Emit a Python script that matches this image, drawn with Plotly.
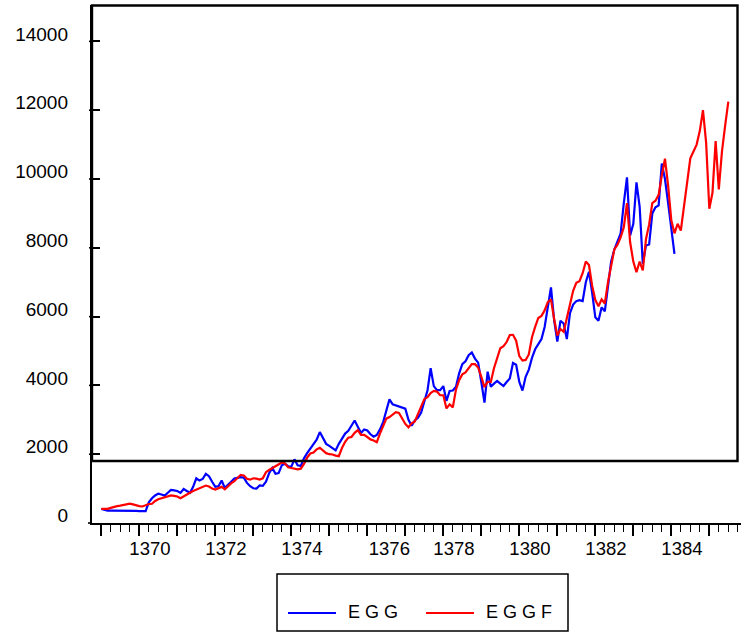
import plotly.graph_objects as go

# ---- data (monthly, starting 1369 month 1) ----
START_YEAR = 1369
egg = [408, 380, 360, 360, 360, 365, 370, 365, 362, 360, 355, 350,
       345, 335, 345, 600, 720, 800, 854, 830, 796, 880, 960, 950,
       930, 875, 990, 930, 880, 1050, 1300, 1234, 1280, 1429, 1360, 1200,
       1050, 1070, 1234, 1021, 1100, 1200, 1290, 1310, 1331, 1320, 1166, 1068,
       1010, 1000, 1090, 1080, 1200, 1450, 1600, 1430, 1450, 1680, 1720, 1650,
       1640, 1850, 1680, 1660, 1880, 2030, 2150, 2280, 2420, 2643, 2480, 2300,
       2240, 2180, 2110, 2300, 2460, 2600, 2680, 2820, 2980, 2800, 2620, 2720,
       2690, 2580, 2508, 2560, 2721, 2934, 3304, 3596, 3450, 3420, 3383, 3350,
       3324, 3000, 2830, 2980, 3062, 3208, 3550, 3850, 4500, 3980, 3860, 3860,
       3980, 3550, 3838, 3850, 3960, 4350, 4620, 4700, 4880, 4958, 4780, 4660,
       4100, 3500, 4400, 3960, 4050, 4130, 4050, 3984, 4100, 4200, 4650, 4600,
       4100, 3850, 4250, 4460, 4800, 5050, 5200, 5350, 5700, 6300, 6850, 5900,
       5270, 5880, 5800, 5346, 6100, 6350, 6450, 6480, 6450, 7000, 7300, 6700,
       5978, 5880, 6270, 6150, 6900, 7600, 7950, 8200, 8420, 9300, 10050, 8359,
       8699, 9900, 9200, 7533, 8067, 8100, 9000, 9180, 9233, 10450, 10000, 9300,
       8600, 7824]
eggf = [408, 400, 410, 440, 470, 490, 504, 530, 550, 563, 540, 510,
        490, 480, 520, 550, 560, 640, 690, 720, 750, 780, 800, 790,
        770, 720, 780, 830, 880, 930, 971, 1000, 1060, 1088, 1060, 1000,
        971, 1000, 1050, 980, 1080, 1150, 1214, 1300, 1400, 1380, 1283, 1260,
        1300, 1290, 1263, 1300, 1477, 1540, 1590, 1640, 1700, 1760, 1730, 1620,
        1600, 1580, 1560, 1580, 1720, 1900, 2020, 2050, 2140, 2187, 2100, 2030,
        2000, 1992, 1960, 1942, 2180, 2360, 2480, 2500, 2620, 2701, 2560, 2560,
        2500, 2430, 2400, 2351, 2600, 2800, 3033, 3080, 3150, 3220, 3200, 3050,
        2880, 2780, 2900, 2950, 3150, 3400, 3600, 3660, 3780, 3840, 3820, 3713,
        3713, 3330, 3450, 3360, 3880, 4150, 4320, 4374, 4500, 4617, 4617, 4520,
        4250, 3950, 4101, 4100, 4500, 4800, 5080, 5140, 5260, 5465, 5470, 5300,
        4850, 4720, 4740, 4900, 5400, 5700, 5960, 6020, 6180, 6420, 6500, 5929,
        5450, 5640, 5560, 5950, 6400, 6750, 6980, 7030, 7260, 7600, 7500, 6900,
        6480, 6300, 6500, 6380, 7000, 7450, 7950, 8090, 8300, 8600, 9300, 8160,
        7600, 7290, 7600, 7340, 8250, 8680, 9300, 9370, 9540, 10100, 10590, 9800,
        8800, 8420, 8700, 8500, 9200, 9950, 10600, 10800, 11000, 11400, 12000, 11050,
        9137, 9600, 11100, 9700, 10800, 11550, 12250]

x_labels = ["1370", "1372", "1374", "1376", "1378", "1380", "1382", "1384"]
x_label_pos = [1370.28, 1372.28, 1374.28, 1376.58, 1378.28, 1380.28, 1382.28, 1384.28]
y_ticks = [0, 2000, 4000, 6000, 8000, 10000, 12000, 14000]
y_labels = [str(v) for v in y_ticks]
series_names = ["E G G", "E G G F"]
colors = ["#0000FF", "#FF0000"]

t_egg = [START_YEAR + i / 12 for i in range(len(egg))]
t_eggf = [START_YEAR + i / 12 for i in range(len(eggf))]

X_RANGE = [1368.755, 1385.834]
Y_RANGE = [0, 15058]
BOX_RIGHT = 1385.742
BOX_BOTTOM = 1802

FONT = "Liberation Sans, Arial, sans-serif"

fig = go.Figure()
fig.add_trace(go.Scatter(x=t_egg, y=egg, mode="lines", name=series_names[0],
                         line=dict(color=colors[0], width=2.2), showlegend=False))
fig.add_trace(go.Scatter(x=t_eggf, y=eggf, mode="lines", name=series_names[1],
                         line=dict(color=colors[1], width=2.2), showlegend=False))
# carrier trace for the label axes
fig.add_trace(go.Scatter(x=[], y=[], xaxis="x2", yaxis="y2", showlegend=False,
                         hoverinfo="skip"))

fx = lambda v: (v - X_RANGE[0]) / (X_RANGE[1] - X_RANGE[0])
fy = lambda v: (v - Y_RANGE[0]) / (Y_RANGE[1] - Y_RANGE[0])

PW, PH, ML, MB_TOP = 649, 518, 92, 523
px2fx = lambda p: (p - ML) / PW
py2fy = lambda p: (MB_TOP - p) / PH

shapes = [
    dict(type="rect", xref="paper", yref="paper", x0=0, x1=fx(BOX_RIGHT),
         y0=fy(BOX_BOTTOM), y1=0.999, line=dict(color="black", width=2.4),
         fillcolor="rgba(0,0,0,0)", layer="above"),
    # small extension of the x axis line to the left of the y axis
    dict(type="line", xref="paper", yref="paper", x0=px2fx(88), x1=0, y0=0, y1=0,
         line=dict(color="black", width=1.6)),
]
# short outside stubs of the y ticks
for v in y_ticks[1:]:
    shapes.append(dict(type="line", xref="paper", yref="paper", x0=px2fx(89), x1=0,
                       y0=fy(v), y1=fy(v), line=dict(color="black", width=1.6)))

# legend box (drawn manually to match the original layout)
shapes.append(dict(type="rect", xref="paper", yref="paper",
                   x0=px2fx(277), x1=px2fx(568), y0=py2fy(631), y1=py2fy(574),
                   line=dict(color="black", width=1.5), fillcolor="white"))
shapes.append(dict(type="line", xref="paper", yref="paper",
                   x0=px2fx(288), x1=px2fx(336), y0=py2fy(613), y1=py2fy(613),
                   line=dict(color=colors[0], width=2.2)))
shapes.append(dict(type="line", xref="paper", yref="paper",
                   x0=px2fx(426), x1=px2fx(474), y0=py2fy(613), y1=py2fy(613),
                   line=dict(color=colors[1], width=2.2)))
annotations = [
    dict(text=series_names[0], xref="paper", yref="paper", x=px2fx(346), y=py2fy(612),
         xanchor="left", yanchor="middle", showarrow=False,
         font=dict(family=FONT, size=18, color="black")),
    dict(text=series_names[1], xref="paper", yref="paper", x=px2fx(484), y=py2fy(612),
         xanchor="left", yanchor="middle", showarrow=False,
         font=dict(family=FONT, size=18, color="black")),
]

fig.update_layout(
    width=741, height=632,
    margin=dict(l=92, r=0, t=5, b=109, pad=0, autoexpand=False),
    paper_bgcolor="white", plot_bgcolor="white",
    font=dict(family=FONT, color="black"),
    shapes=shapes, annotations=annotations,
    xaxis=dict(range=X_RANGE, showline=True, linecolor="black", linewidth=1.6,
               ticks="outside", tickmode="linear", tick0=1369, dtick=1, ticklen=11,
               tickwidth=1.6, tickcolor="black", showticklabels=False, showgrid=False,
               zeroline=False, automargin=False,
               minor=dict(ticks="outside", dtick=0.25, tick0=1369, ticklen=7,
                          tickwidth=1.4, tickcolor="black", showgrid=False)),
    xaxis2=dict(range=X_RANGE, overlaying="x", anchor="y2", side="bottom",
                tickmode="array", tickvals=x_label_pos, ticktext=x_labels, ticks="",
                showline=False, showgrid=False, zeroline=False, ticklabelstandoff=12,
                automargin=False, tickfont=dict(family=FONT, size=18.5, color="black")),
    yaxis=dict(range=Y_RANGE, showline=True, linecolor="black", linewidth=2.4,
               ticks="inside", tickmode="array", tickvals=y_ticks, ticklen=8,
               tickwidth=1.6, tickcolor="black", showticklabels=False, showgrid=False,
               zeroline=False, automargin=False),
    yaxis2=dict(range=Y_RANGE, overlaying="y", anchor="x2", side="left",
                tickmode="array", tickvals=[v + 215 for v in y_ticks], ticktext=y_labels,
                ticks="", showline=False, showgrid=False, zeroline=False,
                ticklabelstandoff=23, automargin=False,
                tickfont=dict(family=FONT, size=19, color="black")),
)

fig.write_html("out.html", config={"displayModeBar": False},
               post_script="document.body.style.margin='0';")
